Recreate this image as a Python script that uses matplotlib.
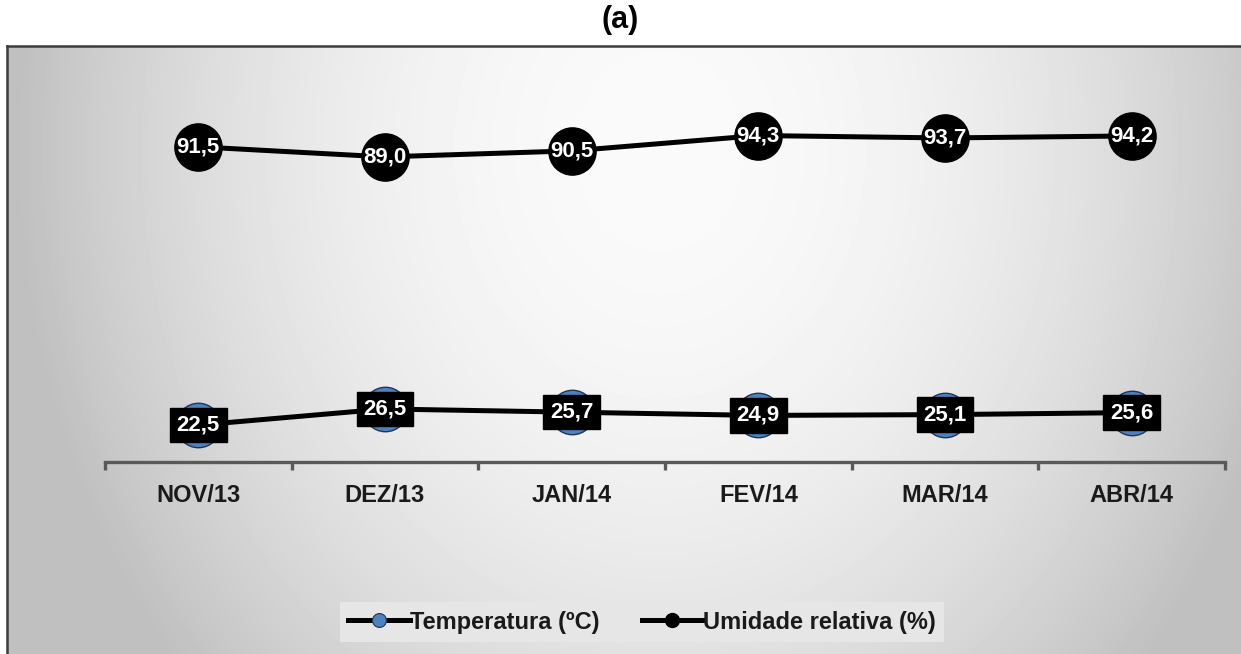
import numpy as np
import matplotlib
matplotlib.use("Agg")
import matplotlib.pyplot as plt
from matplotlib.lines import Line2D

plt.rcParams['font.family'] = ['Liberation Sans', 'DejaVu Sans']

# dados
meses = ["NOV/13", "DEZ/13", "JAN/14", "FEV/14", "MAR/14", "ABR/14"]
temperatura = [22.5, 26.5, 25.7, 24.9, 25.1, 25.6]
umidade = [91.5, 89.0, 90.5, 94.3, 93.7, 94.2]

W, H = 1241, 654
fig = plt.figure(figsize=(W / 100, H / 100), dpi=100)
fig.patch.set_facecolor("white")

# fundo com gradiente (moldura do gráfico)
fx0, fy0 = 7, 46  # canto superior esquerdo da moldura em pixels
bg = fig.add_axes([fx0 / W, 0, 1 - fx0 / W, (H - fy0) / H])
xx, yy = np.meshgrid(np.linspace(fx0, W, 400), np.linspace(fy0, H, 200))
r2 = ((xx - 660) / 620) ** 2 + ((yy - 150) / 750) ** 2
val = np.clip(250 - 54 * r2, 192, 250) / 255
bg.imshow(val, cmap="gray", vmin=0, vmax=1, aspect="auto",
          extent=[0, 1, 0, 1], interpolation="bilinear")
bg.set_xlim(0, 1)
bg.set_ylim(0, 1)
bg.set_xticks([])
bg.set_yticks([])
for s in ["right", "bottom"]:
    bg.spines[s].set_visible(False)
for s in ["left", "top"]:
    bg.spines[s].set_color("#3c3c3c")
    bg.spines[s].set_linewidth(1.8)

# eixo principal
ax = fig.add_axes([105 / W, (H - 462) / H, 1120 / W, 416 / H])
ax.patch.set_alpha(0)
x = np.arange(len(meses))
ax.set_xlim(-0.5, len(meses) - 0.5)
ax.set_ylim(13.35, 116.5)

ax.plot(x, umidade, color="black", lw=3.6, marker="o", ms=34,
        mfc="black", mec="black", zorder=3)
ax.plot(x, temperatura, color="black", lw=3.6, marker="o", ms=32,
        mfc="#4f81bd", mec="#1f3555", mew=1.0, zorder=3)

for xi, v in zip(x, umidade):
    ax.text(xi, v, f"{v:.1f}".replace(".", ","), color="white",
            fontsize=16, fontweight="bold", ha="center", va="center", zorder=5)
for xi, v in zip(x, temperatura):
    ax.text(xi, v, f"{v:.1f}".replace(".", ","), color="white",
            fontsize=16, fontweight="bold", ha="center", va="center", zorder=5,
            bbox=dict(boxstyle="square,pad=0.3", fc="black", ec="black"))

for s in ["left", "right", "top"]:
    ax.spines[s].set_visible(False)
ax.spines["bottom"].set_color("#595959")
ax.spines["bottom"].set_linewidth(2.4)
ax.set_yticks([])
ax.set_xticks(x)
ax.set_xticklabels(meses, fontsize=17, fontweight="bold", color="#1a1a1a")
ax.tick_params(axis="x", which="major", length=0, pad=16)
ax.set_xticks(np.arange(-0.5, len(meses)), minor=True)
ax.tick_params(axis="x", which="minor", length=6, width=2.4, color="#595959",
               direction="out")

# legenda
handles = [
    Line2D([], [], color="black", lw=3.6, marker="o", ms=10,
           mfc="#4f81bd", mec="#1f3555", mew=0.8),
    Line2D([], [], color="black", lw=3.6, marker="o", ms=10,
           mfc="black", mec="black"),
]
leg = fig.legend(handles, ["Temperatura (ºC)", "Umidade relativa (%)"],
                 loc="center", bbox_to_anchor=(642 / W, (H - 622) / H),
                 ncol=2, frameon=True, fancybox=False,
                 prop=dict(size=17, weight="bold"),
                 handlelength=2.6, handletextpad=0.0, columnspacing=1.8,
                 borderpad=0.35, borderaxespad=0)
leg.get_frame().set_facecolor("#e6e6e6")
leg.get_frame().set_edgecolor("none")
leg.get_frame().set_alpha(1)
for t in leg.get_texts():
    t.set_color("#1a1a1a")

fig.text(620 / W, 1 - 20 / H, "(a)", fontsize=22, fontweight="bold",
         ha="center", va="center")

fig.savefig("out.png", dpi=100)
